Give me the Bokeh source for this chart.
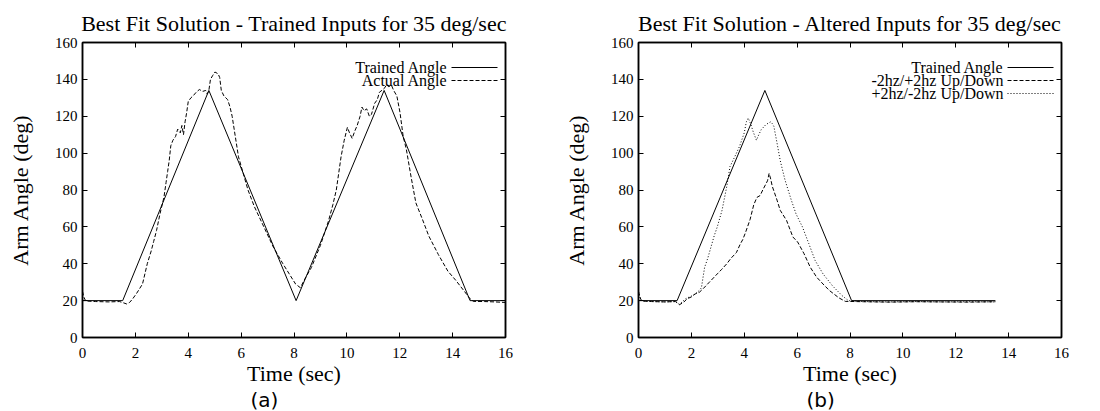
from bokeh.plotting import figure
from bokeh.models import Range1d, FixedTicker, LinearAxis, Label, Arrow, Title
from bokeh.layouts import row
from bokeh.embed import file_html
from bokeh.resources import INLINE

# ---------------- data ----------------
x_ticks = [0, 2, 4, 6, 8, 10, 12, 14, 16]
y_ticks = [0, 20, 40, 60, 80, 100, 120, 140, 160]

# (a) trained inputs
a_trained_t = [0, 1.52, 4.78, 8.08, 11.41, 14.66, 16.0]
a_trained_v = [20, 20, 134, 20, 134, 20, 20]

a_actual_t = [0, 0.05, 0.12, 0.5, 1.0, 1.4, 1.55, 1.67, 1.78, 1.9, 2.05, 2.27, 2.45, 2.6,
              2.69, 2.8, 2.93, 3.08, 3.16, 3.22, 3.28, 3.34, 3.42, 3.52, 3.6, 3.7, 3.76,
              3.82, 3.88, 3.94, 4.0, 4.1, 4.18, 4.3, 4.42, 4.55, 4.66, 4.72, 4.78, 4.84,
              4.92, 5.01, 5.13, 5.19, 5.25, 5.35, 5.49, 5.58, 5.66, 5.78, 5.9, 6.08, 6.26,
              6.5, 6.86, 7.22, 7.58, 7.82, 8.06, 8.24, 8.42, 8.66, 9.0, 9.3, 9.47, 9.6,
              9.78, 9.9, 10.02, 10.1, 10.2, 10.3, 10.39, 10.5, 10.57, 10.65, 10.75, 10.85,
              10.93, 11.05, 11.15, 11.23, 11.41, 11.5, 11.59, 11.68, 11.77, 11.89, 12.01,
              12.13, 12.25, 12.43, 12.61, 12.86, 13.1, 13.46, 13.82, 14.12, 14.42, 14.66,
              14.78, 15.2, 15.6, 16.0]
a_actual_v = [25, 22, 19.8, 19.5, 19.3, 19.5, 18.8, 18.2, 19, 21, 24, 29, 40, 47,
              52, 58, 67, 76, 84, 90, 96, 104, 107, 109, 113, 111, 115,
              110, 117, 122, 128, 130, 131, 133, 134.5, 133.5, 134, 132, 134, 140,
              142, 144, 143, 141, 134, 131, 129, 125, 120, 109, 98, 89, 80,
              71, 60, 49, 40, 34.5, 29, 27, 32, 38, 50, 63, 72, 80,
              98, 107, 114, 111, 108, 112, 115, 120, 125, 123, 124, 120,
              121, 127, 129, 133, 135, 137, 136, 137, 134, 131, 122,
              109, 102, 87, 73, 64, 55, 45, 36, 31, 25.5, 21,
              19.6, 19.5, 19.3, 19.0]

# (b) altered inputs
b_trained_t = [0, 1.46, 4.78, 8.06, 13.5]
b_trained_v = [20, 20, 134, 20, 20]

b_m2p2_t = [0, 0.05, 0.12, 0.5, 1.0, 1.4, 1.55, 1.7, 1.84, 2.0, 2.14, 2.3, 2.44, 2.68,
            2.98, 3.15, 3.34, 3.5, 3.7, 3.86, 3.94, 4.05, 4.22, 4.36, 4.48, 4.6, 4.7,
            4.88, 4.94, 5.0, 5.06, 5.24, 5.36, 5.6, 5.84, 6.02, 6.26, 6.5, 6.74, 6.98,
            7.22, 7.58, 7.82, 8.5, 9.5, 10.5, 11.5, 12.5, 13.5]
b_m2p2_v = [25, 22, 19.8, 19.5, 19.3, 19.5, 17.8, 19, 21, 22, 23.6, 24.5, 26.4, 30,
            34.5, 37, 40, 43, 46, 51, 53, 57, 64, 72, 76, 77, 80,
            85, 89, 86, 82, 74.5, 69, 63.5, 54.5, 51.8, 45.5, 38, 32.7, 29,
            25.5, 21.5, 19.6, 19.4, 19.2, 19.4, 19.3, 19.2, 19.4]

b_p2m2_t = [0, 0.05, 0.12, 0.5, 1.0, 1.4, 1.55, 1.78, 2.0, 2.14, 2.3, 2.38, 2.5, 2.62,
            2.74, 2.86, 2.98, 3.16, 3.34, 3.46, 3.64, 3.82, 4.0, 4.08, 4.15, 4.24, 4.34,
            4.46, 4.55, 4.64, 4.82, 5.0, 5.06, 5.12, 5.24, 5.36, 5.54, 5.78, 5.96, 6.2,
            6.44, 6.68, 6.98, 7.34, 7.7, 7.94, 8.5, 9.5, 10.5, 11.5, 12.5, 13.5]
b_p2m2_v = [25, 22, 19.8, 19.5, 19.3, 19.5, 18, 21, 22.5, 23.6, 25.5, 27, 38, 43,
            49, 55, 60, 69, 82, 92.7, 98, 103.6, 111, 117, 119, 116, 111.5,
            107, 110, 112.7, 115.5, 117, 116, 114.5, 105.5, 96, 85.5, 74.5, 67, 60,
            51, 41.8, 34.5, 28, 22.7, 20, 19.5, 19.3, 19.5, 19.3, 19.4, 19.3]

FONT = "Liberation Serif"


def make_fig(title, width, border_left, border_right, tag, tag_offset):
    p = figure(width=width, height=411, output_backend="svg", toolbar_location=None,
               x_range=Range1d(0, 16), y_range=Range1d(0, 160),
               min_border_left=border_left, min_border_right=border_right,
               min_border_top=42, min_border_bottom=74, title=title)
    p.title.align = "center"
    p.title.text_font = FONT
    p.title.text_font_size = "22px"
    p.title.text_font_style = "normal"
    p.title.text_color = "black"
    p.title.standoff = 14
    p.grid.visible = False
    p.outline_line_color = "black"
    p.outline_line_width = 1.5
    p.background_fill_color = "white"
    p.border_fill_color = "white"

    for ax in (p.xaxis[0], p.yaxis[0]):
        ax.major_tick_in = 5
        ax.major_tick_out = 0
        ax.minor_tick_line_color = None
        ax.axis_line_color = "black"
        ax.axis_line_width = 1.5
        ax.major_tick_line_color = "black"
        ax.major_label_text_font = FONT
        ax.major_label_text_font_size = "15px"
        ax.major_label_text_color = "black"
        ax.axis_label_text_font = FONT
        ax.axis_label_text_font_size = "22px"
        ax.axis_label_text_font_style = "normal"
        ax.axis_label_text_color = "black"
    p.xaxis[0].ticker = FixedTicker(ticks=x_ticks)
    p.yaxis[0].ticker = FixedTicker(ticks=y_ticks)
    p.xaxis[0].axis_label = "Time (sec)"
    p.yaxis[0].axis_label = "Arm Angle (deg)"
    p.xaxis[0].major_label_standoff = 10
    p.yaxis[0].major_label_standoff = 5
    p.xaxis[0].axis_label_standoff = 0
    p.yaxis[0].axis_label_standoff = 19

    # mirrored ticks on top and right (no labels)
    top = LinearAxis(ticker=FixedTicker(ticks=x_ticks))
    right = LinearAxis(ticker=FixedTicker(ticks=y_ticks))
    for ax in (top, right):
        ax.major_tick_in = 5
        ax.major_tick_out = 0
        ax.minor_tick_line_color = None
        ax.major_label_text_font_size = "0px"
        ax.major_label_text_color = None
        ax.major_label_standoff = 0
        ax.axis_line_color = "black"
        ax.axis_line_width = 1.5
    p.add_layout(top, "above")
    p.add_layout(right, "right")

    # sub-figure tag "(a)" / "(b)" under the x-axis label
    p.add_layout(Title(text=tag, align="left", offset=tag_offset, standoff=-6,
                       text_font="DejaVu Sans", text_font_size="20px",
                       text_font_style="normal", text_color="black"), "below")
    return p


def legend(p, rows):
    # rows: list of (text, dash); text right-aligned, line sample on its right
    for i, (txt, dash) in enumerate(rows):
        y = 270 - 13 * i
        p.add_layout(Label(x=365, y=y, x_units="screen", y_units="screen", text=txt,
                           text_align="right", text_baseline="middle",
                           text_font=FONT, text_font_size="16px", text_color="black"))
        p.add_layout(Arrow(end=None, x_start=369, y_start=y, x_end=415, y_end=y,
                           start_units="screen", end_units="screen",
                           line_color="black", line_width=1, line_dash=dash))


# ---------------- (a) ----------------
pa = make_fig("Best Fit Solution - Trained Inputs for 35 deg/sec", 550, 82, 45, "(a)", 168)
pa.line(a_trained_t, a_trained_v, line_color="black", line_width=1)
pa.line(a_actual_t, a_actual_v, line_color="black", line_width=1, line_dash="4 2")
legend(pa, [("Trained Angle", "solid"), ("Actual Angle", "4 2")])

# ---------------- (b) ----------------
pb = make_fig("Best Fit Solution - Altered Inputs for 35 deg/sec", 542, 88, 31, "(b)", 168)
pb.line(b_trained_t, b_trained_v, line_color="black", line_width=1)
pb.line(b_m2p2_t, b_m2p2_v, line_color="black", line_width=1, line_dash="4 2")
pb.line(b_p2m2_t, b_p2m2_v, line_color="black", line_width=1, line_dash="1 2")
legend(pb, [("Trained Angle", "solid"), ("-2hz/+2hz Up/Down", "4 2"),
            ("+2hz/-2hz Up/Down", "1 2")])

layout = row(pa, pb)
open("out.html", "w").write(file_html(layout, INLINE))
